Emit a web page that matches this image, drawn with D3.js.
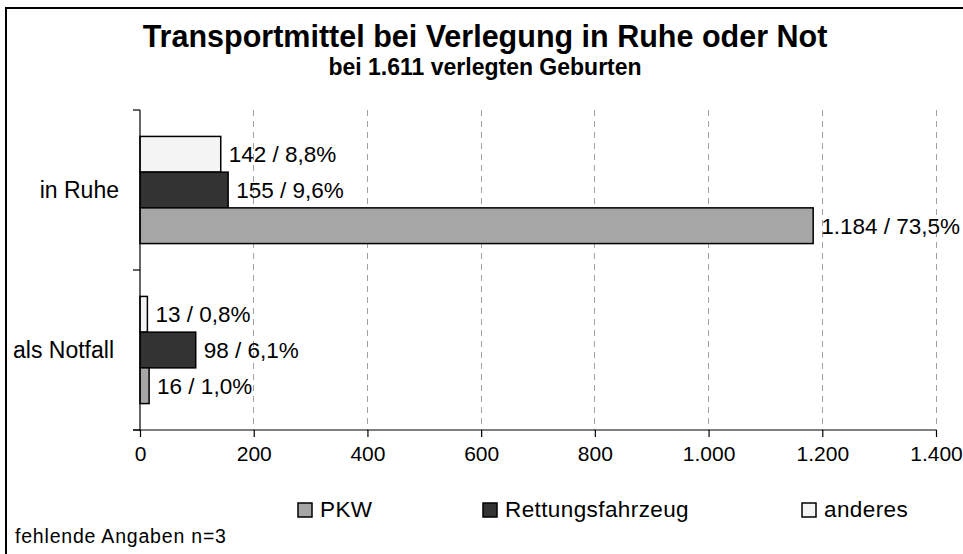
<!DOCTYPE html>
<html>
<head>
<meta charset="utf-8">
<script src="https://cdn.jsdelivr.net/npm/d3@7"></script>
<style>
  html, body { margin: 0; padding: 0; background: #fff; }
  svg { display: block; }
  text { font-family: "Liberation Sans", Arial, sans-serif; fill: #000; }
</style>
</head>
<body>
<svg id="chart" width="963" height="554"></svg>
<script>
// ---- data ----
const categories = ["in Ruhe", "als Notfall"];
const seriesNames = ["PKW", "Rettungsfahrzeug", "anderes"];
const pkwValues = [1184, 16];
const rettungValues = [155, 98];
const anderesValues = [142, 13];
const pkwPercent = ["73,5%", "1,0%"];
const rettungPercent = ["9,6%", "6,1%"];
const anderesPercent = ["8,8%", "0,8%"];
const xTicks = [0, 200, 400, 600, 800, 1000, 1200, 1400];
const titleText = "Transportmittel bei Verlegung in Ruhe oder Not";
const subtitleText = "bei 1.611 verlegten Geburten";
const footnoteText = "fehlende Angaben n=3";

const colors = { "PKW": "#a6a6a6", "Rettungsfahrzeug": "#333333", "anderes": "#f4f4f4" };
const valuesBySeries = { "PKW": pkwValues, "Rettungsfahrzeug": rettungValues, "anderes": anderesValues };
const pctBySeries = { "PKW": pkwPercent, "Rettungsfahrzeug": rettungPercent, "anderes": anderesPercent };

const fmt = d3.formatLocale({ decimal: ",", thousands: ".", grouping: [3], currency: ["", "€"] }).format(",d");

const svg = d3.select("#chart");

// outer border (only top/left visible in frame)
svg.append("rect").attr("x", 6).attr("y", 8).attr("width", 1000).attr("height", 600)
  .attr("fill", "none").attr("stroke", "#000").attr("stroke-width", 2);

const plot = { left: 140, right: 936, top: 110, bottom: 430 };

const x = d3.scaleLinear().domain([0, 1400]).range([plot.left, plot.right]);
const y0 = d3.scaleBand().domain(categories).range([plot.top, plot.bottom]).padding(0);
const stackOrder = ["anderes", "Rettungsfahrzeug", "PKW"]; // top to bottom within group
const y1 = d3.scaleBand().domain(stackOrder).range([0, y0.bandwidth()]).paddingInner(0).paddingOuter(0.74);

// gridlines
svg.append("g").selectAll("line").data(xTicks.filter(d => d > 0)).join("line")
  .attr("x1", d => x(d)).attr("x2", d => x(d))
  .attr("y1", plot.top).attr("y2", plot.bottom)
  .attr("stroke", "#a0a0a0").attr("stroke-width", 1).attr("stroke-dasharray", "6,5")
  .attr("shape-rendering", "crispEdges");

// bars
const groups = svg.append("g").selectAll("g").data(categories).join("g")
  .attr("transform", d => `translate(0,${y0(d)})`);

groups.each(function(cat, ci) {
  const g = d3.select(this);
  stackOrder.forEach(s => {
    const v = valuesBySeries[s][ci];
    g.append("rect")
      .attr("x", x(0)).attr("y", y1(s))
      .attr("width", x(v) - x(0)).attr("height", y1.bandwidth())
      .attr("fill", colors[s]).attr("stroke", "#000").attr("stroke-width", 1.5);
    g.append("text")
      .attr("x", x(v) + 8).attr("y", y1(s) + y1.bandwidth() / 2)
      .attr("dy", "0.36em")
      .attr("font-size", 22.5)
      .text(`${fmt(v)} / ${pctBySeries[s][ci]}`);
  });
});

// y axis
const yAxis = svg.append("g");
yAxis.append("line").attr("x1", plot.left).attr("x2", plot.left)
  .attr("y1", plot.top).attr("y2", plot.bottom + 1).attr("stroke", "#000").attr("stroke-width", 1.2);
yAxis.selectAll("line.tick").data([plot.top, y0("als Notfall"), plot.bottom]).join("line")
  .attr("class", "tick")
  .attr("x1", plot.left - 7).attr("x2", plot.left).attr("y1", d => d).attr("y2", d => d)
  .attr("stroke", "#000").attr("stroke-width", 1.2);
const catLabelRight = [119, 114];
yAxis.selectAll("text").data(categories).join("text")
  .attr("x", (d, i) => catLabelRight[i]).attr("y", d => y0(d) + y0.bandwidth() / 2)
  .attr("dy", "0.36em").attr("text-anchor", "end")
  .attr("font-size", 23)
  .text(d => d);

// x axis
const xAxis = svg.append("g").attr("transform", `translate(0,${plot.bottom})`)
  .call(d3.axisBottom(x).tickValues(xTicks).tickSize(7).tickPadding(9).tickFormat(d => fmt(d)));
xAxis.select(".domain").attr("stroke", "#000").attr("stroke-width", 1.2)
  .attr("d", `M${plot.left - 7},0H${plot.right}`);
xAxis.selectAll(".tick line").attr("stroke", "#000").attr("stroke-width", 1.2);
xAxis.selectAll(".tick text").attr("font-size", 21)
  .attr("font-family", "'Liberation Sans', Arial, sans-serif").attr("fill", "#000");

// title
svg.append("text").attr("x", 485).attr("y", 47).attr("text-anchor", "middle")
  .attr("font-size", 30.5).attr("font-weight", "bold").text(titleText);
svg.append("text").attr("x", 485).attr("y", 75).attr("text-anchor", "middle")
  .attr("font-size", 23).attr("font-weight", "bold").text(subtitleText);

// legend
const legendX = [298, 483, 802];
const legend = svg.append("g").selectAll("g").data(seriesNames).join("g")
  .attr("transform", (d, i) => `translate(${legendX[i]},503)`);
legend.append("rect").attr("width", 14).attr("height", 14)
  .attr("fill", d => colors[d]).attr("stroke", "#000").attr("stroke-width", 1.5);
legend.append("text").attr("x", 22).attr("y", 14).attr("font-size", 22.5).attr("letter-spacing", 0.4).text(d => d);

// footnote
svg.append("text").attr("x", 15).attr("y", 543).attr("font-size", 19.5).attr("letter-spacing", 0.8)
  .text(footnoteText);
</script>
</body>
</html>
